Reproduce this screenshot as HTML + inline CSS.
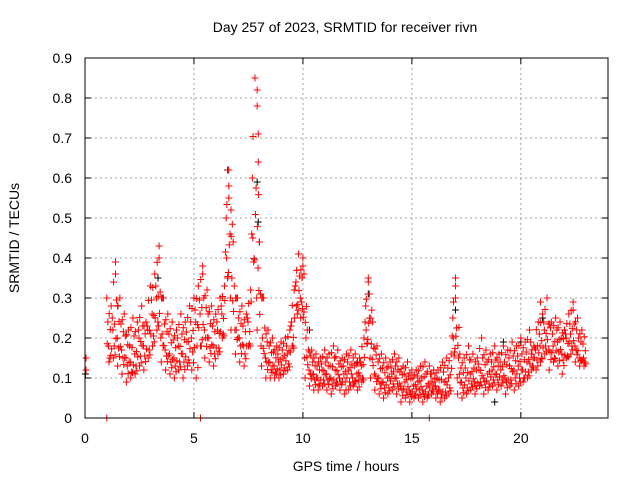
<!DOCTYPE html>
<html><head><meta charset="utf-8"><style>
body{margin:0;background:#fff;width:640px;height:480px;overflow:hidden}
svg text{font-family:"Liberation Sans",sans-serif;font-size:14px;fill:#000}
</style></head><body>
<svg id="c" width="640" height="480">
<text x="345" y="32" text-anchor="middle">Day 257 of 2023, SRMTID for receiver rivn</text>
<text transform="translate(19,238) rotate(-90)" text-anchor="middle">SRMTID / TECUs</text>
<text x="346" y="471" text-anchor="middle">GPS time / hours</text>
<g id="grid"></g>
<g id="ticks"></g>
<g id="black"></g>
<g id="red"></g>
<rect x="85" y="58" width="523" height="360" fill="none" stroke="#000"/>
</svg>
<script>
const yTicks=[0,0.1,0.2,0.3,0.4,0.5,0.6,0.7,0.8,0.9];
const yTickLabels=["0","0.1","0.2","0.3","0.4","0.5","0.6","0.7","0.8","0.9"];
const xTicks=[0,5,10,15,20];
const xTickLabels=["0","5","10","15","20"];
const hours=[1.0,1.2,1.4,1.6,1.8,2.0,2.2,2.4,2.6,2.8,3.0,3.2,3.4,3.6,3.8,4.0,4.2,4.4,4.6,4.8,5.0,5.2,5.4,5.6,5.8,6.0,6.2,6.4,6.6,6.8,7.0,7.2,7.4,7.6,7.8,8.0,8.2,8.4,8.6,8.8,9.0,9.2,9.4,9.6,9.8,10.0,10.2,10.4,10.6,10.8,11.0,11.2,11.4,11.6,11.8,12.0,12.2,12.4,12.6,12.8,13.0,13.2,13.4,13.6,13.8,14.0,14.2,14.4,14.6,14.8,15.0,15.2,15.4,15.6,15.8,16.0,16.2,16.4,16.6,16.8,17.0,17.2,17.4,17.6,17.8,18.0,18.2,18.4,18.6,18.8,19.0,19.2,19.4,19.6,19.8,20.0,20.2,20.4,20.6,20.8,21.0,21.2,21.4,21.6,21.8,22.0,22.2,22.4,22.6,22.8];
const hi=[.30,.28,.39,.30,.26,.22,.25,.24,.28,.24,.33,.36,.43,.30,.26,.24,.22,.26,.24,.28,.30,.33,.38,.32,.28,.26,.30,.33,.62,.44,.30,.28,.26,.32,.85,.44,.30,.22,.20,.18,.19,.20,.22,.32,.41,.38,.22,.17,.16,.15,.17,.16,.18,.17,.15,.16,.17,.16,.15,.20,.35,.24,.18,.16,.15,.14,.16,.15,.13,.14,.12,.12,.13,.14,.13,.12,.12,.14,.15,.16,.35,.16,.15,.18,.16,.15,.20,.17,.16,.18,.16,.18,.17,.19,.18,.20,.19,.22,.18,.24,.26,.30,.24,.25,.24,.22,.26,.29,.25,.22];
const mid=[.20,.18,.22,.20,.17,.15,.14,.16,.20,.18,.22,.26,.30,.20,.17,.16,.15,.18,.16,.19,.20,.24,.26,.22,.20,.18,.22,.26,.50,.30,.22,.20,.18,.24,.60,.30,.18,.15,.14,.13,.14,.15,.16,.24,.34,.30,.15,.12,.11,.10,.12,.11,.10,.12,.10,.11,.12,.10,.11,.13,.28,.15,.11,.10,.09,.10,.11,.10,.08,.09,.07,.08,.09,.07,.08,.09,.08,.07,.09,.10,.25,.10,.09,.10,.11,.09,.12,.10,.11,.12,.11,.12,.10,.13,.12,.13,.12,.14,.16,.17,.18,.22,.17,.18,.19,.16,.20,.21,.18,.15];
const lo=[.12,.14,.15,.13,.11,.09,.10,.11,.13,.12,.15,.18,.22,.14,.12,.11,.10,.12,.10,.13,.12,.10,.18,.15,.14,.13,.16,.20,.40,.22,.16,.14,.13,.18,.45,.22,.13,.10,.10,.10,.10,.11,.12,.18,.28,.25,.10,.08,.07,.07,.08,.07,.06,.08,.07,.06,.07,.08,.07,.09,.22,.10,.07,.06,.05,.06,.07,.06,.04,.05,.04,.05,.05,.04,.05,.06,.05,.04,.05,.06,.20,.06,.05,.06,.07,.06,.08,.06,.07,.08,.07,.08,.06,.08,.07,.08,.09,.10,.12,.12,.14,.16,.12,.14,.13,.11,.15,.16,.14,.13];
const extraT=[0.05,0.05,1.0,5.3,15.8,6.6,6.6,6.7,7.9,7.9,7.95,7.95,13.0,13.05,17.0,17.0,10.0,10.05,1.4,3.4,5.4,20.9,22.4];
const extraV=[0.15,0.12,0,0,0,0.55,0.58,0.52,0.82,0.78,0.71,0.64,0.34,0.31,0.33,0.30,0.40,0.36,0.36,0.40,0.36,0.29,0.27];
const blackT=[0.02,6.55,7.9,7.95,3.35,13.0,17.0,10.3,20.0,21.0,1.5,5.0,8.0,12.5,18.8,19.2];
const blackV=[0.11,0.62,0.59,0.49,0.35,0.31,0.27,0.22,0.19,0.25,0.28,0.30,0.44,0.14,0.04,0.19];
const X=t=>85+t*(523/24), Y=v=>418-v*400;
const ns="http://www.w3.org/2000/svg";
const grid=document.getElementById('grid'),ticks=document.getElementById('ticks');
function line(p,x1,y1,x2,y2,st,dash){const l=document.createElementNS(ns,'line');l.setAttribute('x1',x1);l.setAttribute('y1',y1);l.setAttribute('x2',x2);l.setAttribute('y2',y2);l.setAttribute('stroke',st);if(dash)l.setAttribute('stroke-dasharray',dash);p.appendChild(l);return l;}
function txt(p,x,y,s,a){const t=document.createElementNS(ns,'text');t.setAttribute('x',x);t.setAttribute('y',y);t.setAttribute('text-anchor',a);t.textContent=s;p.appendChild(t);return t;}
yTicks.forEach((v,i)=>{const y=Y(v);
 if(i>0&&i<yTicks.length-1){const g=line(grid,85,y,608,y,'#a0a0a0','2,3');}
 line(ticks,85,y,91,y,'#000');line(ticks,608,y,602,y,'#000');
 const t=txt(ticks,72,y+5,yTickLabels[i],'end');
 
 });
xTicks.forEach((v,i)=>{const x=X(v);
 if(i>0){const g=line(grid,x,58,x,418,'#a0a0a0','2,3');}
 line(ticks,x,418,x,412,'#000');line(ticks,x,58,x,64,'#000');
 const t=txt(ticks,x,443,xTickLabels[i],'middle');
 
 });
function plus(p,t,v,c){const x=X(t),y=Y(v);const g=document.createElementNS(ns,'path');
 g.setAttribute('d',`M${x-3.5},${y}H${x+3.5}M${x},${y-3.5}V${y+3.5}`);g.setAttribute('stroke',c);g.setAttribute('fill','none');
 
 
 p.appendChild(g);}
const bk=document.getElementById('black'),rd=document.getElementById('red');
blackT.forEach((t,i)=>plus(bk,t,blackV[i],'#000'));
const fr=[0,0.12,0.25,0.37,0.5,0.62,0.75,0.87,1];
const off=[0.0,0.11,0.05,0.16,0.08,0.02,0.14,0.18,0.1];
hours.forEach((t,i)=>{
 const n=i+1<hours.length?i+1:i;
 fr.forEach((f,k)=>{
  const a=(k%2===0)?hi[i]:hi[n];const b=(k%3===0)?lo[i]:lo[n];const m=(k%2===0)?mid[n]:mid[i];
  const v=f<0.5?a+(m-a)*f*2:m+(b-m)*(f-0.5)*2;
  plus(rd,t+off[k],v,'#f00');
 });
});
extraT.forEach((t,i)=>plus(rd,t,extraV[i],'#f00'));
</script>
</body></html>
